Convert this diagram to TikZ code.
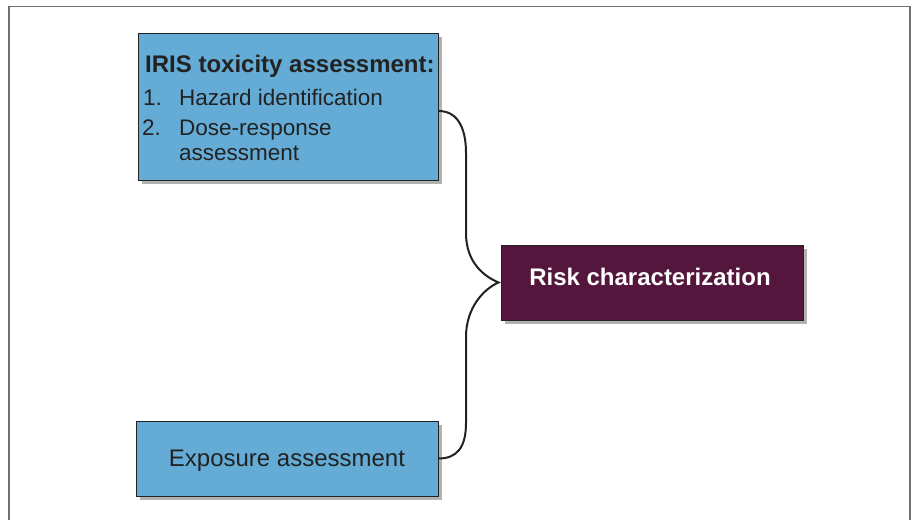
\documentclass[tikz,border=0pt]{standalone}
\usepackage{fontspec}
\setmainfont{Liberation Sans}
\usetikzlibrary{shadows,calc}
\definecolor{boxblue}{RGB}{100,172,214}
\definecolor{riskpurple}{RGB}{84,22,60}
\definecolor{framegray}{RGB}{112,112,112}
\definecolor{inkdark}{RGB}{34,34,34}
\begin{document}
\begin{tikzpicture}[x=1pt,y=-1pt,
  boxbase/.style={draw=inkdark, line width=1pt, inner sep=0pt,
    drop shadow={shadow xshift=4pt, shadow yshift=-4pt, opacity=0.3, fill=black}},
  bluebox/.style={boxbase, fill=boxblue},
  riskbox/.style={boxbase, fill=riskpurple},
  txt/.style={inner sep=0pt, text=inkdark, anchor=base west},
  itemfont/.style={font=\fontsize{22.5}{27}\selectfont},
  connector/.style={draw=inkdark, line width=2pt}]
\useasboundingbox (0,0) rectangle (912,520);
\draw[framegray, line width=1.5pt] (9,520) -- (9,6.5) -- (910,6.5) -- (910,520);

\node[bluebox, minimum width=300pt, minimum height=147pt] (iris) at (288,106.5) {};
\node[bluebox, minimum width=302pt, minimum height=75pt] (expo) at (287,458.5) {};
\node[riskbox, minimum width=302pt, minimum height=75pt] (risk) at (652,282.5) {};

\node[txt, font=\bfseries\fontsize{24}{28}\selectfont] (title) at (145,72) {IRIS toxicity assessment:};
\node[txt, itemfont] (n1) at (143,105) {1.};
\node[txt, itemfont] (h1) at (179,105) {Hazard identification};
\node[txt, itemfont] (n2) at (142,135) {2.};
\node[txt, itemfont] (h2) at (179,135) {Dose-response};
\node[txt, itemfont] (h3) at (179,160) {assessment};

\node[inner sep=0pt, anchor=base, text=white, font=\bfseries\fontsize{24}{28}\selectfont] (risktext) at (650,285) {Risk characterization};
\node[inner sep=0pt, anchor=base, text=inkdark, font=\fontsize{24}{28}\selectfont] (expotext) at (287,466) {Exposure assessment};

\draw[connector] ([yshift=-4.5pt]iris.east) .. controls +(22,0) and +(0,-20) .. (466,153)
  -- (466,233) .. controls +(0,30) and +(-14,-6) .. ([xshift=-2pt]risk.west)
  .. controls +(-14,6) and +(0,-30) .. (466,337)
  -- (466,423) .. controls +(0,25) and +(18,0) .. (expo.east);
\end{tikzpicture}
\end{document}
